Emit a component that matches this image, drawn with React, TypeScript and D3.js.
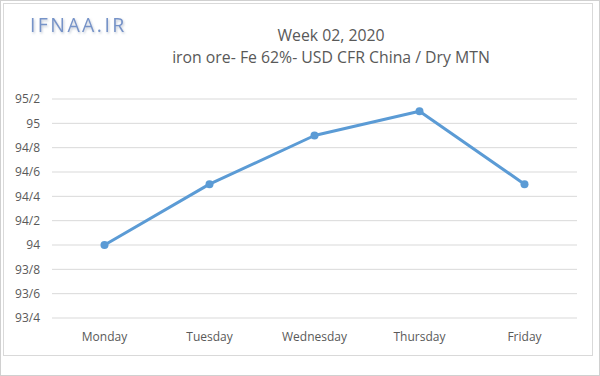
import React from "react";
import * as d3 from "d3";

const days = ["Monday", "Tuesday", "Wednesday", "Thursday", "Friday"];
const prices = [94.0, 94.5, 94.9, 95.1, 94.5];
const yTicks = [93.4, 93.6, 93.8, 94.0, 94.2, 94.4, 94.6, 94.8, 95.0, 95.2];
const titleLines = ["Week 02, 2020", "iron ore- Fe 62%- USD CFR China / Dry MTN"];

const fmt = (v: number) => {
  const s = (Math.round(v * 10) / 10).toString();
  return s.replace(".", "/");
};

export default function App() {
  const W = 600, H = 376;
  const left = 52, right = 577, top = 99, bottom = 318;
  const x = d3.scaleBand<string>().domain(days).range([left, right]);
  const y = d3.scaleLinear().domain([93.4, 95.2]).range([bottom, top]);
  const line = d3
    .line<number>()
    .x((_, i) => (x(days[i]) as number) + x.bandwidth() / 2)
    .y((d) => y(d));
  const font = "'Open Sans', 'Noto Sans', sans-serif";
  return (
    <svg
      width={W}
      height={H}
      style={{ position: "absolute", left: 0, top: 0, background: "#fff" }}
    >
      <defs>
        <filter id="sh" x="-10%" y="-20%" width="130%" height="160%">
          <feDropShadow dx="1" dy="1.5" stdDeviation="0.8" floodColor="#a9b4c4" floodOpacity="0.7" />
        </filter>
      </defs>
      <rect x={0.5} y={0.5} width={599} height={375} fill="#fff" stroke="#d0d0d0" />
      <rect x={3.5} y={3.5} width={589} height={352} fill="#fff" stroke="#d9d9d9" />
      <text
        x={30}
        y={31.5}
        fontFamily={font}
        fontSize={19.5}
        fontWeight={500}
        fill="#7693c8"
        filter="url(#sh)"
        letterSpacing={2.4}
      >
        IFNAA.IR
      </text>
      {titleLines.map((t, i) => (
        <text
          key={t}
          x={331}
          y={41 + i * 22}
          textAnchor="middle"
          fontFamily={font}
          fontSize={15.8}
          fill="#595959"
        >
          {t}
        </text>
      ))}
      {yTicks.map((v) => (
        <g key={v}>
          <line
            x1={left}
            x2={right}
            y1={y(v)}
            y2={y(v)}
            stroke="#d9d9d9"
            strokeWidth={1}
          />
          <text
            x={40}
            y={y(v)}
            dy="0.35em"
            textAnchor="end"
            fontFamily={font}
            fontSize={12}
            fill="#595959"
          >
            {fmt(v)}
          </text>
        </g>
      ))}
      {days.map((d) => (
        <text
          key={d}
          x={(x(d) as number) + x.bandwidth() / 2}
          y={336.5}
          dy="0.35em"
          textAnchor="middle"
          fontFamily={font}
          fontSize={12}
          fill="#595959"
        >
          {d}
        </text>
      ))}
      <path d={line(prices) || ""} fill="none" stroke="#5b9bd5" strokeWidth={3} strokeLinejoin="round" />
      {prices.map((p, i) => (
        <circle
          key={i}
          cx={(x(days[i]) as number) + x.bandwidth() / 2}
          cy={y(p)}
          r={4}
          fill="#5b9bd5"
        />
      ))}
    </svg>
  );
}
